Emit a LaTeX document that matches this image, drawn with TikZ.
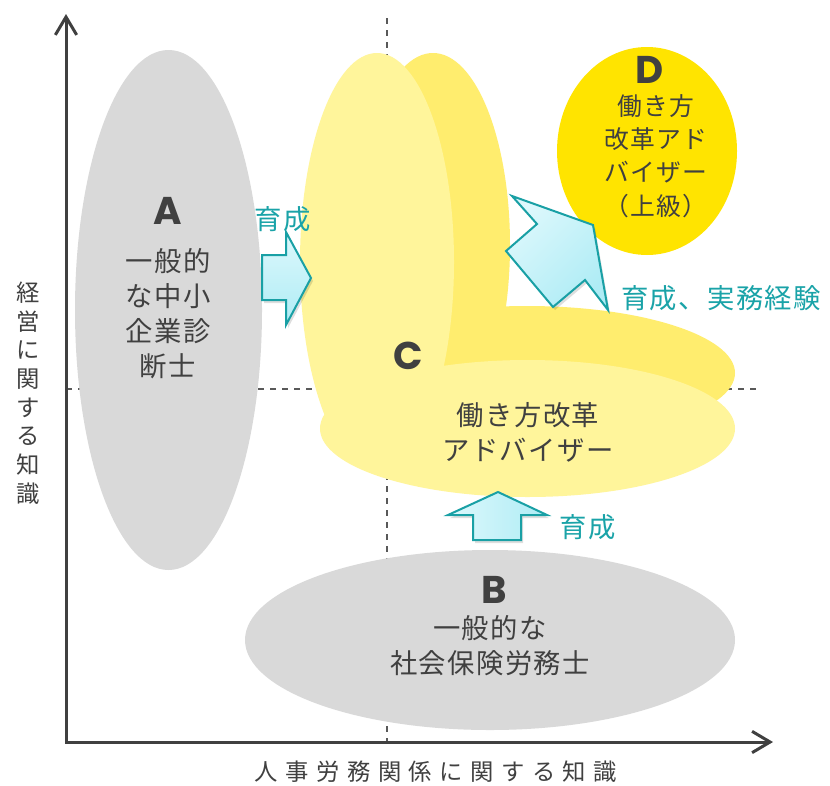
\documentclass[tikz,border=0pt]{standalone}
\usepackage{fontspec}
\setmainfont{Noto Sans CJK JP}
\newfontfamily\jp{Noto Sans CJK JP}[LetterSpace=5]
\newfontfamily\jpwide{Noto Sans CJK JP}[LetterSpace=32]
\newfontfamily\geo{Poppins}
\usetikzlibrary{arrows.meta}
\definecolor{txt}{HTML}{404040}
\definecolor{tealtxt}{HTML}{1AA3A8}
\definecolor{tealline}{HTML}{19A0A5}
\definecolor{cyanlight}{HTML}{DDF8FC}
\definecolor{cyandark}{HTML}{AEECF5}
\definecolor{grayfill}{HTML}{D9D9D9}
\definecolor{backyellow}{HTML}{FFED6E}
\definecolor{frontyellow}{HTML}{FFF59B}
\definecolor{dyellow}{HTML}{FFE400}
\definecolor{axisgray}{HTML}{404040}
\definecolor{guidegray}{HTML}{595959}
\tikzset{
  jtext/.style={text=txt, font=\jp\fontsize{20.5}{26.25}\selectfont, align=center, inner sep=0pt},
  dtext/.style={text=txt, font=\jp\fontsize{18.6}{24.9}\selectfont, align=center, inner sep=0pt},
  letter/.style={text=txt, font=\geo\bfseries\fontsize{29}{30}\selectfont, inner sep=0pt},
  growlabel/.style={text=tealtxt, font=\jp\fontsize{20.5}{22}\selectfont, inner sep=0pt},
  vaxislabel/.style={text=txt, font=\normalfont\fontsize{17.5}{21.5}\selectfont, align=center, inner sep=0pt},
  haxislabel/.style={text=txt, font=\jpwide\fontsize{17.5}{20}\selectfont, inner sep=0pt},
  arrowbase/.style={draw=tealline, line width=1.5pt, line join=miter},
  arrowshadow/.style={fill=black, opacity=0.13},
  axisline/.style={draw=axisgray, line width=2.25pt, {Straight Barb[length=13.5pt,width=16pt]}-{Straight Barb[length=13.5pt,width=16pt]}},
  guide/.style={draw=guidegray, line width=1.1pt, dash pattern=on 4.5pt off 4.5pt},
}
\begin{document}
\begin{tikzpicture}[x=0.75pt, y=-0.75pt]
\useasboundingbox (0,0) rectangle (830,785);
\fill[white] (0,0) rectangle (830,785);

% guide lines
\coordinate (vtop) at (387,18);
\coordinate (vbot) at (387,742);
\coordinate (hleft) at (66,389);
\coordinate (hright) at (762,389);
\draw[guide] (vtop) -- (vbot);
\draw[guide] (hleft) -- (hright);

% A and B
\fill[grayfill] (168.5,310) ellipse [x radius=93.5, y radius=260];
\fill[grayfill] (490,640) ellipse [x radius=245, y radius=90];

% C (two layers)
\fill[backyellow] (433,245) ellipse [x radius=77, y radius=192];
\fill[backyellow] (527,373) ellipse [x radius=208, y radius=67];
\fill[frontyellow] (377,262) ellipse [x radius=77, y radius=209];
\fill[frontyellow] (527.5,428.5) ellipse [x radius=207.5, y radius=68.5];

% D
\fill[dyellow] (647,151) ellipse [x radius=90, y radius=104];

% arrows: shadows
\fill[arrowshadow] (264,258) -- (288,258) -- (288,235) -- (313,281) -- (288,328) -- (288,303) -- (264,303) -- cycle;
\fill[arrowshadow] (475,543) -- (475,518) -- (450,518) -- (500,495) -- (549,518) -- (523,518) -- (523,543) -- cycle;
\fill[arrowshadow] (514,199) -- (595,228) -- (610,313) -- (587,283) -- (555,310) -- (508,254) -- (539,227) -- cycle;

% arrows
\path[arrowbase, top color=cyanlight, bottom color=cyandark]
  (262,255) -- (286,255) -- (286,232) -- (311,278) -- (286,325) -- (286,300) -- (262,300) -- cycle;
\path[arrowbase, left color=cyanlight, right color=cyandark]
  (473,540) -- (473,515) -- (448,515) -- (498,492) -- (547,515) -- (521,515) -- (521,540) -- cycle;
\path[arrowbase, top color=cyanlight, bottom color=cyandark, shading angle=45]
  (512,196) -- (593,225) -- (608,310) -- (585,280) -- (553,307) -- (506,251) -- (537,224) -- cycle;

% texts
\node[letter] (lA) at (168,211) {A};
\node[jtext] (tA) at (168,314) {一般的\\な中小\\企業診\\断士};
\node[letter] (lB) at (494,590) {B};
\node[jtext] (tB) at (490,646) {一般的な\\社会保険労務士};
\node[letter] (lC) at (408,356) {C};
\node[jtext] (tC) at (528,432) {働き方改革\\アドバイザー};
\node[letter] (lD) at (650,70) {D};
\node[dtext] (tD) at (656,156) {働き方\\改革アド\\バイザー\\（上級）};

\node[growlabel] (g1) at (283,219) {育成};
\node[growlabel] (g2) at (588,527) {育成};
\node[growlabel] (g3) at (721,298) {育成、実務経験};

% axes
\coordinate (ytop) at (66,14);
\coordinate (origin) at (66,742);
\coordinate (xend) at (773,742);
\draw[axisline] (ytop) -- (origin) -- (xend);

\node[vaxislabel] (yl) at (28,393) {経\\営\\に\\関\\す\\る\\知\\識};
\node[haxislabel] (xl) at (436,772) {人事労務関係に関する知識};
\end{tikzpicture}
\end{document}
